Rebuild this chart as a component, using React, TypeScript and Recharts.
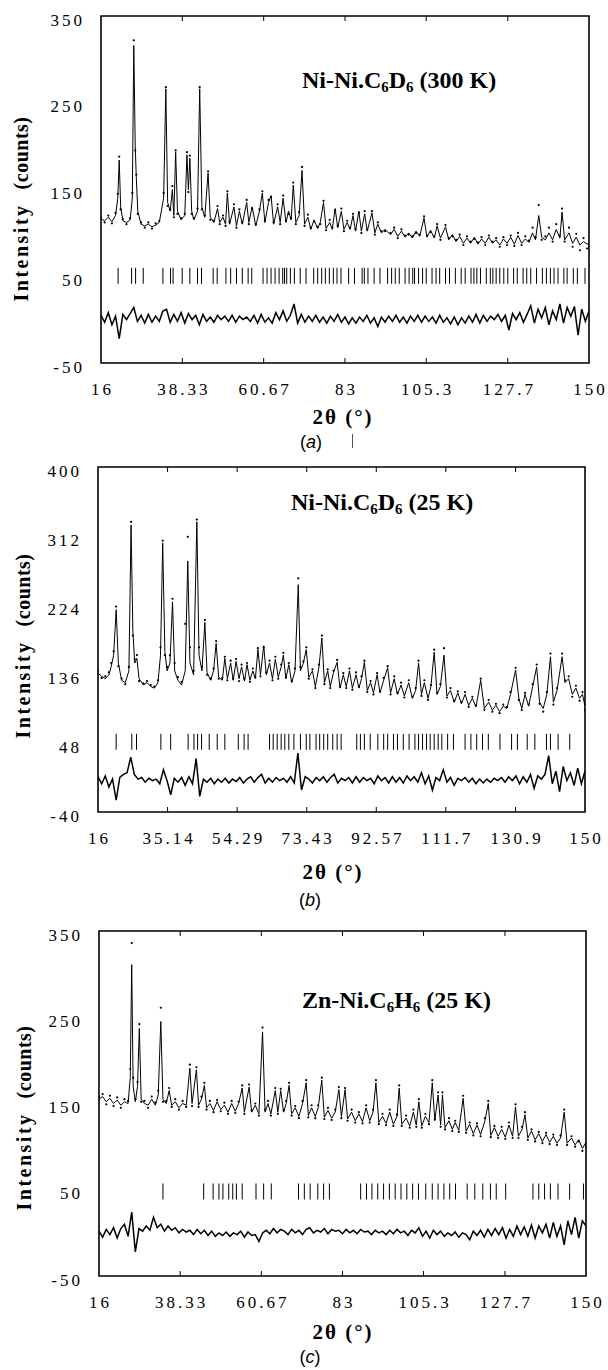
import React from 'react';
import { ComposedChart, Line, Scatter, XAxis, YAxis, ReferenceArea } from 'recharts';

const SERIF = '"Liberation Serif", "Times New Roman", serif';
const SANS = '"Liberation Sans", Arial, sans-serif';

// ---------- Panel (a): Ni-Ni.C6D6 (300 K) ----------
const aXTicks = [16, 38.33, 60.67, 83, 105.3, 127.7, 150];
const aXLabels = ['16', '38.33', '60.67', '83', '105.3', '127.7', '150'];
const aYTicks = [-50, 50, 150, 250, 350];
const aYLabels = ['-50', '50', '150', '250', '350'];
const aTheta = [
  16, 17, 18, 19, 20, 20.6, 21, 21.4, 22, 23,
  24, 24.6, 25, 25.4, 25.7, 26.1, 27, 28, 29, 30,
  31, 32, 33.2, 33.8, 34.3, 35, 35.6, 36, 36.5, 37,
  38, 39, 39.6, 40, 40.4, 40.9, 41.5, 42.5, 43.1, 43.7,
  44.5, 45.4, 46, 47, 48, 48.6, 49.5, 50.2, 50.7, 51.3,
  52.5, 53.2, 54, 54.8, 56, 56.6, 57.5, 58.5, 59.5, 60.3,
  61, 62, 62.7, 63.4, 64.5, 65.2, 66, 66.8, 67.5, 68.2,
  68.8, 69.5, 70.4, 71.2, 71.9, 72.8, 73.6, 74.5, 75.5, 76.2,
  77.1, 77.8, 78.8, 79.5, 80.3, 81, 82, 82.7, 83.6, 84.4,
  85.2, 85.9, 86.8, 87.5, 88.4, 89.1, 90.4, 91.2, 92, 93,
  94, 95.5, 96.5, 97.5, 98.5, 99.5, 100.5, 101.5, 102.5, 103.5,
  104.7, 105.5, 106.5, 107.5, 108.3, 109.2, 110.6, 111.5, 112.5, 113.5,
  114.5, 115.5, 116.5, 117.5, 118.5, 119.5, 120.5, 121.5, 122.5, 123.5,
  124.5, 125.5, 126.5, 127.5, 128.5, 129.5, 130.5, 131.5, 132.5, 133.5,
  134.5, 135.3, 136.2, 137, 138, 139, 140, 141, 142, 142.6,
  143.3, 144.5, 145.5, 146.5, 147.5, 148.5, 149.5, 150,
];
const aCalc = [
  116, 114, 118, 113, 120, 140, 184, 130, 114, 112,
  115, 140, 316, 200, 163, 125, 110, 108, 110, 107,
  109, 112, 140, 266, 135, 125, 150, 120, 193, 125,
  115, 120, 190, 150, 186, 125, 115, 125, 266, 130,
  118, 169, 118, 112, 128, 112, 118, 110, 146, 110,
  130, 108, 125, 110, 135, 112, 130, 108, 125, 146,
  112, 135, 143, 110, 130, 112, 140, 112, 125, 115,
  155, 112, 120, 172, 110, 118, 104, 115, 105, 112,
  135, 105, 112, 104, 128, 106, 125, 104, 112, 104,
  120, 102, 125, 102, 122, 102, 123, 100, 110, 100,
  104, 98, 104, 96, 102, 95, 100, 94, 102, 96,
  117, 95, 103, 94, 108, 94, 107, 92, 98, 90,
  96, 88, 94, 88, 95, 87, 93, 88, 95, 88,
  92, 86, 93, 88, 95, 87, 97, 88, 93, 89,
  100, 92, 120, 95, 92, 100, 92, 104, 94, 124,
  92, 100, 88, 95, 86, 90, 87, 88,
];
const aObs = [
  118, 112, 120, 111, 123, 145, 188, 127, 116, 110,
  117, 146, 322, 195, 167, 122, 112, 106, 112, 105,
  111, 114, 146, 268, 131, 127, 154, 118, 195, 122,
  117, 122, 193, 147, 189, 122, 117, 128, 268, 127,
  120, 171, 115, 114, 131, 110, 120, 108, 148, 112,
  133, 106, 127, 112, 138, 110, 128, 110, 127, 148,
  114, 138, 141, 112, 133, 110, 143, 114, 122, 117,
  158, 110, 124, 176, 108, 121, 106, 113, 107, 110,
  137, 103, 115, 106, 126, 108, 128, 102, 114, 106,
  122, 104, 123, 100, 125, 104, 125, 98, 112, 102,
  102, 100, 106, 94, 104, 97, 98, 96, 100, 98,
  119, 97, 101, 96, 110, 92, 109, 94, 96, 92,
  98, 86, 96, 90, 93, 89, 95, 86, 97, 90,
  94, 84, 95, 86, 97, 85, 100, 86, 96, 91,
  106, 95, 132, 92, 96, 106, 90, 110, 97, 128,
  90, 106, 84, 99, 80, 94, 82, 86,
];
const aDiffStart = 16;
const aDiff = [
  5, -3, 8, -6, 4, -22, 6, 0, 7, 14,
  -2, 5, -4, 6, -3, 4, -2, 10, 12, -3,
  6, -2, 8, -4, 7, 0, 5, -6, 6, -2,
  3, -3, 5, 0, 4, -2, 5, -3, 4, 0,
  3, -2, 5, -4, 6, -3, 2, -4, 8, 0,
  10, -2, 5, 18, -4, 6, -3, 4, -2, 5,
  -3, 3, -4, 4, -2, 6, -3, 3, -5, 2,
  -4, 3, -2, 5, -4, 2, -8, 3, -3, 4,
  -2, 5, -3, 3, -4, 4, -2, 5, -3, 4,
  -2, 3, -4, 5, -3, 2, -5, 3, -6, 2,
  -4, 4, -3, 6, -4, 5, -2, 4, 0, 6,
  -2, 5, -12, 7, 0, 8, -3, 6, 16, -4,
  12, 2, 14, -6, 10, 0, 18, -4, 14, 4,
  15, -18, 12, -2, 10,
];
const aRefl = [
  20.7, 24.4, 25.5, 27.6, 33.0, 35.1, 35.8, 38.3, 40.4, 42.5, 43.6, 46.8, 47.9,
  50.3, 51.6, 53.2, 54.8, 56.4, 57.4, 60.5, 61.6, 62.7, 63.8, 64.9, 65.9, 66.4,
  67.0, 68.0, 69.1, 70.7, 72.3, 74.4, 75.5, 76.6, 77.6, 78.7, 79.8, 80.8, 81.9,
  84.0, 85.6, 87.7, 88.3, 89.3, 91.0, 92.6, 94.7, 95.8, 96.8, 97.9, 99.5, 100.6,
  101.6, 102.1, 103.2, 104.3, 105.3, 106.9, 108.0, 109.0, 110.6, 111.7, 113.3,
  114.9, 116.0, 117.6, 118.4, 119.2, 120.2, 121.8, 122.9, 123.6, 124.5, 125.5,
  126.6, 127.7, 129.3, 130.3, 131.9, 132.9, 134.0, 135.6, 137.2, 138.3, 139.4,
  140.4, 141.5, 143.1, 144.0, 145.7, 146.8, 148.9,
];

// ---------- Panel (b): Ni-Ni.C6D6 (25 K) ----------
const bXTicks = [16, 35.14, 54.29, 73.43, 92.57, 111.7, 130.9, 150];
const bXLabels = ['16', '35.14', '54.29', '73.43', '92.57', '111.7', '130.9', '150'];
const bYTicks = [-40, 48, 136, 224, 312, 400];
const bYLabels = ['-40', '48', '136', '224', '312', '400'];
const bTheta = [
  16, 17, 18, 19, 19.6, 20.3, 21, 21.6, 22.5, 23.5,
  24.5, 25.1, 25.6, 26.1, 26.7, 27.3, 28.5, 29.5, 30.5, 31.5,
  32.5, 33.2, 33.8, 34.4, 35, 35.8, 36.5, 37.1, 38, 39,
  40, 40.7, 41.3, 42.3, 43.2, 43.8, 44.6, 45.4, 46, 47,
  47.8, 48.5, 49.2, 50.2, 50.9, 51.6, 52.5, 53.2, 54, 54.8,
  55.5, 56.3, 57, 57.8, 58.6, 59.3, 60, 60.7, 61.6, 62.3,
  63.2, 64, 64.8, 65.6, 66.4, 67, 67.7, 68.5, 69.3, 70.2,
  71.1, 71.7, 72.5, 73.3, 74, 75, 75.8, 76.8, 77.6, 78.3,
  79.2, 79.9, 80.8, 81.8, 82.6, 83.5, 84.3, 85.2, 86, 87,
  87.8, 88.5, 89.3, 90.1, 91, 91.8, 92.8, 93.6, 94.6, 95.7,
  96.5, 97.5, 98.4, 99.4, 100.3, 101.5, 102.5, 103.4, 104.2, 105,
  105.8, 106.8, 107.6, 108.5, 109.3, 110.2, 111.2, 112, 113, 114,
  115, 116, 117, 118, 119, 120, 121.3, 122.3, 123.5, 124.5,
  125.5, 126.5, 127.5, 128.5, 129.5, 130.9, 131.8, 132.6, 133.5, 134.5,
  135.6, 136.7, 137.5, 138.5, 139.5, 140.5, 141.3, 142.3, 143.7, 144.5,
  145.5, 146.5, 147.5, 148.5, 149.3, 150,
];
const bCalc = [
  137, 133, 130, 135, 145, 160, 218, 150, 128, 125,
  140, 326, 190, 150, 156, 130, 122, 125, 120, 118,
  125, 160, 303, 165, 140, 150, 228, 140, 128, 122,
  140, 280, 150, 135, 330, 160, 140, 202, 138, 128,
  140, 175, 132, 128, 156, 130, 150, 128, 152, 130,
  145, 127, 148, 128, 140, 130, 167, 135, 172, 135,
  150, 130, 155, 132, 145, 160, 130, 148, 125, 140,
  250, 140, 150, 167, 132, 140, 120, 145, 182, 125,
  140, 120, 138, 151, 118, 135, 120, 140, 118, 135,
  118, 130, 151, 115, 125, 112, 135, 112, 128, 144,
  112, 130, 110, 122, 108, 125, 105, 115, 150, 110,
  125, 105, 120, 164, 110, 120, 160, 108, 115, 100,
  112, 98, 110, 96, 105, 94, 128, 92, 100, 90,
  96, 88, 95, 92, 110, 141, 105, 92, 110, 95,
  120, 145, 100, 92, 110, 158, 100, 115, 158, 125,
  130, 110, 118, 105, 110, 95,
];
const bObs = [
  140, 131, 133, 138, 150, 165, 222, 146, 130, 123,
  145, 330, 185, 155, 160, 127, 124, 127, 122, 120,
  128, 170, 306, 160, 145, 160, 232, 150, 132, 126,
  200, 311, 170, 140, 333, 170, 145, 205, 135, 130,
  143, 178, 130, 131, 158, 128, 153, 130, 155, 127,
  148, 130, 150, 126, 143, 132, 169, 133, 170, 138,
  153, 128, 158, 130, 148, 163, 132, 150, 127, 143,
  258, 145, 152, 170, 130, 142, 118, 148, 185, 123,
  142, 118, 140, 154, 120, 137, 118, 143, 116, 138,
  120, 133, 153, 113, 127, 110, 137, 114, 131, 146,
  110, 133, 112, 125, 106, 128, 107, 118, 153, 108,
  128, 103, 122, 167, 112, 123, 169, 106, 118, 102,
  114, 100, 113, 94, 107, 96, 130, 90, 103, 88,
  98, 86, 97, 94, 113, 144, 103, 90, 112, 97,
  123, 148, 98, 88, 113, 162, 97, 118, 162, 128,
  133, 107, 121, 102, 113, 90,
];
const bDiffStart = 16;
const bDiff = [
  5, -4, 6, -8, 2, -25, 4, 8, 10, 30,
  8, 2, 4, -2, 3, 0, 2, -4, 14, 0,
  -18, 3, -2, 4, -6, 5, -4, 28, -20, 2,
  -2, 3, -4, 2, -2, 3, -3, 2, -1, 4,
  -3, 2, 5, -2, 4, 8, -3, 3, -2, 4,
  0, 3, -2, 5, -3, 35, -12, 5, 2, -3,
  4, 0, 5, -2, 4, 8, -3, 3, 0, 4,
  -3, 5, -2, 4, 0, 3, -4, 6, 0, 4,
  -3, 5, -2, 4, -3, 6, 0, 5, -2, 10,
  -4, 6, -12, 4, 0, 14, -2, 4, -6, 3,
  0, 4, -2, 3, -4, 2, -3, 2, -2, 3,
  0, 4, -2, 5, 0, 6, -4, 5, -2, 8,
  -10, 6, 2, 8, 32, -4, 12, -14, 18, 0,
  10, -6, 16, -4, 12,
];
const bRefl = [
  21.0, 25.3, 26.6, 33.3, 36.0, 40.8, 42.4, 43.4, 44.5, 46.6, 48.8, 50.9, 54.6,
  56.2, 57.3, 63.2, 64.2, 65.3, 66.4, 67.4, 68.5, 69.9, 71.7, 73.3, 74.3, 76.0,
  77.0, 78.1, 79.2, 80.6, 81.8, 82.9, 87.2, 88.2, 89.3, 90.9, 93.0, 94.6, 95.7,
  97.3, 98.4, 100.0, 101.6, 103.2, 104.2, 105.3, 106.4, 107.4, 108.5, 109.6,
  110.6, 112.2, 113.8, 117.0, 118.6, 120.2, 121.8, 123.4, 126.6, 129.8, 131.4,
  134.1, 136.2, 139.4, 140.5, 142.6, 145.8,
];

// ---------- Panel (c): Zn-Ni.C6H6 (25 K) ----------
const cXTicks = [16, 38.33, 60.67, 83, 105.3, 127.7, 150];
const cXLabels = ['16', '38.33', '60.67', '83', '105.3', '127.7', '150'];
const cYTicks = [-50, 50, 150, 250, 350];
const cYLabels = ['-50', '50', '150', '250', '350'];
const cTheta = [
  16, 17, 18, 19, 20, 21, 22, 23, 24, 24.6,
  25, 25.4, 26, 26.6, 27.1, 27.6, 28.5, 29.5, 30.5, 31.5,
  32.3, 33, 33.6, 34.5, 35.3, 36, 37, 38, 39, 40,
  41, 41.6, 42.8, 43.4, 44.2, 45, 45.6, 46.5, 47.5, 48.5,
  49.5, 50.5, 51.5, 52.5, 53.5, 54.4, 55.4, 56, 57.3, 58,
  59, 60, 61, 61.7, 62.5, 63.3, 64.5, 65.2, 66, 66.8,
  67.5, 68.3, 69, 70, 71, 72, 73, 73.6, 74.5, 75.5,
  76.3, 77.3, 78, 79, 80, 81, 82, 82.7, 83.7, 84.4,
  85.5, 86.5, 87.5, 88.5, 89.5, 90.5, 91.4, 92.2, 93, 94,
  95, 96, 97, 98, 98.6, 99.3, 100.5, 101.5, 102.5, 103.3,
  104, 104.8, 105.8, 106.8, 107.7, 108.4, 109.3, 110, 110.5, 111.2,
  112.3, 113.2, 114, 115, 116.2, 117, 118, 119, 120, 121,
  122.2, 123.1, 123.8, 124.8, 125.8, 126.8, 127.8, 128.8, 129.8, 130.6,
  131.4, 132.4, 133.2, 134, 135, 136, 137, 138, 139, 140,
  141, 142, 143, 144, 144.8, 146, 147, 148, 149, 150,
];
const cCalc = [
  155, 158, 152, 156, 150, 154, 148, 152, 150, 180,
  311, 170, 152, 170, 237, 155, 150, 148, 155, 148,
  160, 245, 155, 150, 165, 148, 152, 145, 150, 148,
  191, 150, 189, 148, 155, 171, 145, 150, 142, 152,
  143, 148, 140, 150, 141, 150, 168, 140, 169, 140,
  148, 138, 233, 140, 150, 138, 165, 140, 165, 140,
  150, 171, 138, 145, 135, 150, 174, 136, 145, 135,
  145, 177, 134, 142, 133, 140, 166, 135, 166, 132,
  140, 130, 138, 129, 145, 130, 140, 174, 128, 135,
  127, 140, 126, 135, 168, 126, 133, 124, 140, 125,
  152, 124, 135, 128, 174, 130, 160, 125, 160, 122,
  130, 120, 128, 119, 156, 118, 126, 115, 125, 114,
  130, 150, 113, 122, 112, 120, 111, 125, 112, 146,
  112, 120, 137, 110, 118, 108, 115, 106, 114, 105,
  112, 104, 110, 140, 104, 110, 102, 108, 98, 105,
];
const cObs = [
  158, 161, 149, 159, 147, 157, 145, 155, 153, 190,
  336, 180, 155, 175, 242, 152, 153, 145, 158, 151,
  165, 261, 152, 153, 168, 146, 155, 143, 153, 146,
  195, 147, 192, 146, 158, 174, 143, 153, 140, 154,
  141, 151, 138, 153, 139, 152, 171, 138, 172, 142,
  150, 136, 238, 143, 153, 136, 168, 138, 167, 142,
  153, 174, 136, 147, 133, 153, 177, 134, 148, 133,
  148, 180, 132, 145, 131, 143, 169, 133, 168, 130,
  143, 128, 140, 127, 148, 128, 143, 177, 126, 138,
  125, 143, 124, 137, 171, 124, 136, 122, 143, 123,
  155, 122, 138, 126, 177, 132, 163, 123, 163, 120,
  133, 118, 130, 117, 159, 116, 128, 113, 127, 112,
  133, 153, 111, 124, 110, 123, 109, 128, 110, 149,
  110, 123, 140, 108, 120, 106, 117, 104, 116, 103,
  114, 102, 113, 143, 102, 112, 100, 106, 95, 100,
];
const cDiffStart = 16;
const cDiff = [
  2, -5, 4, -2, 6, -6, 5, 10, -4, 24,
  -22, 5, 2, 8, 3, 18, 6, 10, 2, 8,
  3, 6, 0, 4, 1, 3, -2, 4, -1, 3,
  -3, 2, -4, 0, -3, 1, -4, 0, -2, 2,
  -5, 1, -3, -2, -10, 0, 3, -1, 5, 0,
  4, 2, -2, 4, 0, 3, -2, 4, 6, 0,
  3, 1, 5, -1, 4, 2, 3, -1, 4, 0,
  3, -1, 4, 1, 2, -2, 3, 0, 2, -2,
  3, -1, 4, 0, 2, -3, 3, 0, 6, -4,
  2, -6, 3, -2, 2, -4, 0, -3, 1, -5,
  0, -2, -8, 2, -3, 3, -5, 4, -3, 5,
  -2, 6, -6, 4, -4, 8, -2, 7, -4, 9,
  -6, 8, 0, 10, -6, 12, -4, 8, -14, 14,
  -2, 18, -6, 14, 8,
];
const cRefl = [
  33.6, 44.8, 47.4, 49.0, 50.1, 51.7, 52.8, 53.8, 55.4, 59.2, 61.3, 63.4, 70.9,
  72.5, 74.1, 76.2, 77.8, 79.4, 88.0, 89.6, 91.1, 92.7, 94.3, 95.9, 97.5, 99.1,
  100.7, 102.3, 103.9, 105.9, 107.7, 109.3, 110.9, 112.5, 114.1, 117.3, 119.4,
  121.6, 123.7, 125.3, 127.9, 135.4, 137.0, 138.6, 140.2, 142.3, 145.5, 149.3,
];

type PanelProps = {
  top: number;
  height: number;
  plot: { left: number; right: number; top: number; bottom: number };
  xTicks: number[];
  xLabels: string[];
  yTicks: number[];
  yLabels: string[];
  theta: number[];
  obs: number[];
  calc: number[];
  diffStart: number;
  diff: number[];
  refl: number[];
  reflLevel: number;
};

const ObsDot = (p: any) => <circle cx={p.cx} cy={p.cy} r={1.1} fill="#000" />;
const ReflMark = (p: any) => (
  <line x1={p.cx} x2={p.cx} y1={p.cy - 8} y2={p.cy + 8} stroke="#000" strokeWidth={1} />
);

const Y_AXIS_W = 60;
const X_AXIS_H = 40;

function Panel(props: PanelProps) {
  const { top, height, plot, xTicks, xLabels, yTicks, yLabels } = props;
  const profile = props.theta.map((x, i) => ({ x, y: props.obs[i], calc: props.calc[i] }));
  const diffData = props.diff.map((d, i) => ({ x: props.diffStart + i, d }));
  const reflData = props.refl.map((x) => ({ x, y: props.reflLevel }));
  const margin = {
    top: plot.top - top,
    left: plot.left - Y_AXIS_W,
    right: 608 - plot.right,
    bottom: top + height - plot.bottom - X_AXIS_H,
  };
  const yDomain: [number, number] = [yTicks[0], yTicks[yTicks.length - 1]];
  const plotBottomLocal = plot.bottom - top;
  const plotTopLocal = plot.top - top;

  const XTick = (p: any) => {
    const i = xTicks.indexOf(p.payload.value);
    const inner = i > 0 && i < xTicks.length - 1;
    return (
      <g>
        {inner && (
          <line x1={p.x} x2={p.x} y1={plotBottomLocal} y2={plotBottomLocal - 5} stroke="#000" strokeWidth={1} />
        )}
        {inner && (
          <line x1={p.x} x2={p.x} y1={plotTopLocal} y2={plotTopLocal + 5} stroke="#000" strokeWidth={1} />
        )}
        <text
          x={p.x + 1.5}
          y={plotBottomLocal + 26}
          textAnchor="middle"
          dominantBaseline="central"
          fill="#000"
          style={{ fontFamily: SERIF, fontSize: 17, letterSpacing: 3 }}
        >
          {xLabels[i]}
        </text>
      </g>
    );
  };
  const YTick = (p: any) => {
    const i = yTicks.indexOf(p.payload.value);
    return (
      <text
        x={plot.left - 16}
        y={p.y + 4}
        textAnchor="end"
        dominantBaseline="central"
        fill="#000"
        style={{ fontFamily: SERIF, fontSize: 17, letterSpacing: 3 }}
      >
        {yLabels[i]}
      </text>
    );
  };

  return (
    <div style={{ position: 'absolute', left: 0, top, width: 608, height }}>
      <ComposedChart width={608} height={height} margin={margin}>
        <XAxis
          dataKey="x"
          type="number"
          domain={[16, 150]}
          ticks={xTicks}
          interval={0}
          tick={XTick}
          tickLine={false}
          axisLine={false}
          height={X_AXIS_H}
          tickSize={0}
          tickMargin={0}
          allowDataOverflow
        />
        <YAxis
          type="number"
          domain={yDomain}
          ticks={yTicks}
          interval={0}
          tick={YTick}
          tickLine={false}
          axisLine={false}
          width={Y_AXIS_W}
          tickSize={0}
          tickMargin={0}
          allowDataOverflow
        />
        <ReferenceArea
          x1={16}
          x2={150}
          y1={yDomain[0]}
          y2={yDomain[1]}
          fill="none"
          fillOpacity={0}
          stroke="#000"
          strokeWidth={1.6}
          ifOverflow="visible"
        />
        <Line
          data={profile}
          dataKey="calc"
          type="linear"
          stroke="#000"
          strokeWidth={1}
          dot={false}
          isAnimationActive={false}
        />
        <Scatter data={profile} dataKey="y" shape={ObsDot} isAnimationActive={false} />
        <Line
          data={diffData}
          dataKey="d"
          type="linear"
          stroke="#000"
          strokeWidth={1.5}
          dot={false}
          isAnimationActive={false}
        />
        <Scatter data={reflData} dataKey="y" shape={ReflMark} isAnimationActive={false} />
      </ComposedChart>
    </div>
  );
}

const subStyle: React.CSSProperties = { fontSize: '0.62em', verticalAlign: '-0.28em', lineHeight: 0 };

function Title({ left, cy, children }: { left: number; cy: number; children: React.ReactNode }) {
  return (
    <div
      style={{
        position: 'absolute',
        left,
        top: cy - 14,
        height: 28,
        lineHeight: '28px',
        fontFamily: SERIF,
        fontWeight: 'bold',
        fontSize: 24,
        whiteSpace: 'nowrap',
        color: '#000',
      }}
    >
      {children}
    </div>
  );
}

function YLabel({ cx, cy }: { cx: number; cy: number }) {
  return (
    <div
      style={{
        position: 'absolute',
        left: cx,
        top: cy,
        transform: 'translate(-50%, -50%) rotate(-90deg)',
        fontFamily: SERIF,
        fontWeight: 'bold',
        fontSize: 20,
        lineHeight: '22px',
        whiteSpace: 'nowrap',
        color: '#000',
      }}
    >
      <span style={{ letterSpacing: 2.5 }}>Intensity</span>
      <span style={{ display: 'inline-block', width: 14 }} />
      <span style={{ letterSpacing: 0.5 }}>(counts)</span>
    </div>
  );
}

function XLabel({ cx, cy }: { cx: number; cy: number }) {
  return (
    <div
      style={{
        position: 'absolute',
        left: cx,
        top: cy,
        transform: 'translate(-50%, -50%)',
        fontFamily: SERIF,
        fontWeight: 'bold',
        fontSize: 21,
        lineHeight: '22px',
        whiteSpace: 'nowrap',
        letterSpacing: 2,
        color: '#000',
      }}
    >
      2θ (°)
    </div>
  );
}

function PanelTag({ cx, cy, letter }: { cx: number; cy: number; letter: string }) {
  return (
    <div
      style={{
        position: 'absolute',
        left: cx,
        top: cy,
        transform: 'translate(-50%, -50%)',
        fontFamily: SANS,
        fontSize: 18,
        lineHeight: '20px',
        whiteSpace: 'nowrap',
        color: '#000',
      }}
    >
      (<i>{letter}</i>)
    </div>
  );
}

export default function App() {
  return (
    <div
      style={{
        position: 'absolute',
        left: 0,
        top: 0,
        width: 608,
        height: 1370,
        background: '#fff',
        overflow: 'hidden',
      }}
    >
      <Panel
        top={0}
        height={455}
        plot={{ left: 101, right: 589, top: 16, bottom: 363 }}
        xTicks={aXTicks}
        xLabels={aXLabels}
        yTicks={aYTicks}
        yLabels={aYLabels}
        theta={aTheta}
        obs={aObs}
        calc={aCalc}
        diffStart={aDiffStart}
        diff={aDiff}
        refl={aRefl}
        reflLevel={50.5}
      />
      <Panel
        top={450}
        height={460}
        plot={{ left: 98, right: 585, top: 467, bottom: 812 }}
        xTicks={bXTicks}
        xLabels={bXLabels}
        yTicks={bYTicks}
        yLabels={bYLabels}
        theta={bTheta}
        obs={bObs}
        calc={bCalc}
        diffStart={bDiffStart}
        diff={bDiff}
        refl={bRefl}
        reflLevel={49.5}
      />
      <Panel
        top={915}
        height={455}
        plot={{ left: 99, right: 586, top: 931, bottom: 1276 }}
        xTicks={cXTicks}
        xLabels={cXLabels}
        yTicks={cYTicks}
        yLabels={cYLabels}
        theta={cTheta}
        obs={cObs}
        calc={cCalc}
        diffStart={cDiffStart}
        diff={cDiff}
        refl={cRefl}
        reflLevel={48}
      />

      <Title left={302} cy={80}>
        Ni-Ni.C<sub style={subStyle}>6</sub>D<sub style={subStyle}>6</sub> (300 K)
      </Title>
      <Title left={291} cy={502}>
        Ni-Ni.C<sub style={subStyle}>6</sub>D<sub style={subStyle}>6</sub> (25 K)
      </Title>
      <Title left={302} cy={1000}>
        Zn-Ni.C<sub style={subStyle}>6</sub>H<sub style={subStyle}>6</sub> (25 K)
      </Title>

      <YLabel cx={21} cy={209} />
      <YLabel cx={23} cy={646} />
      <YLabel cx={24} cy={1118} />

      <XLabel cx={343} cy={417} />
      <XLabel cx={333} cy={872} />
      <XLabel cx={343} cy={1332} />

      <PanelTag cx={311} cy={442} letter="a" />
      <div
        style={{
          position: 'absolute',
          left: 352,
          top: 434,
          width: 1,
          height: 14,
          background: '#555',
        }}
      />
      <PanelTag cx={310} cy={900} letter="b" />
      <PanelTag cx={310} cy={1357} letter="c" />
    </div>
  );
}
